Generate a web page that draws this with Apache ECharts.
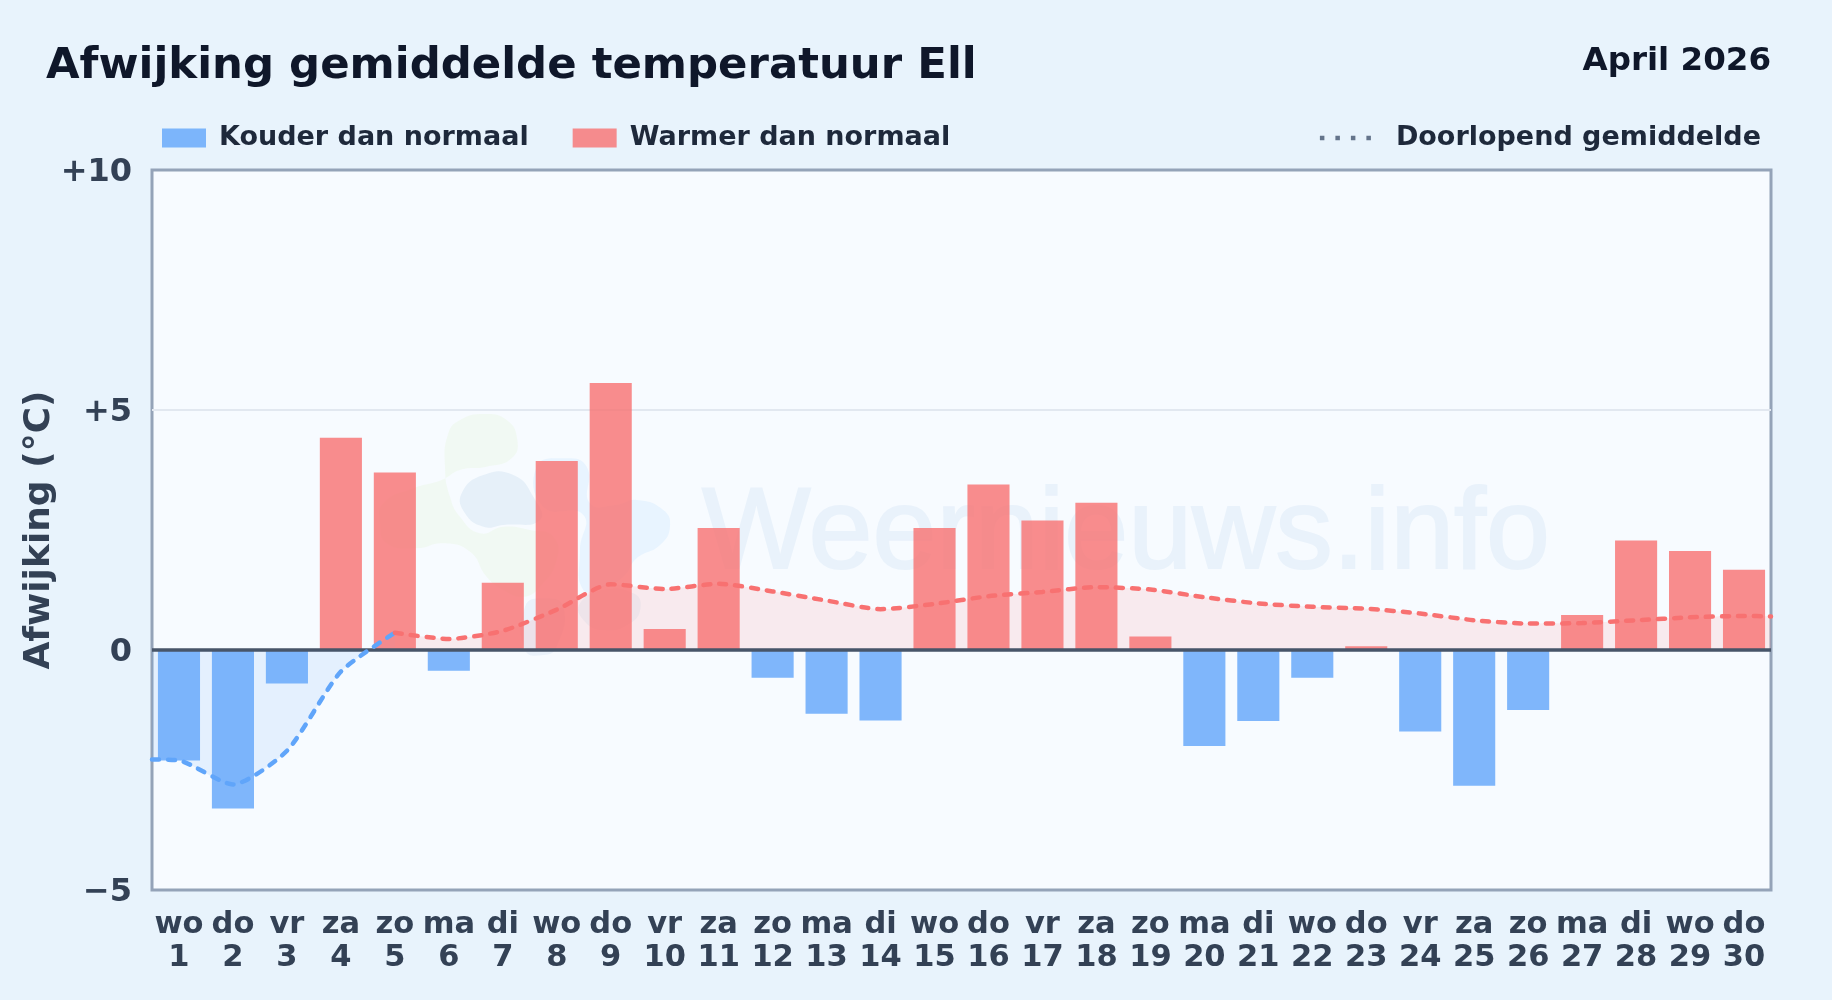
<!DOCTYPE html>
<html><head><meta charset="utf-8">
<style>html,body{margin:0;padding:0;background:#e8f3fc}#c{width:1832px;height:1000px}</style>
<script src="https://cdn.jsdelivr.net/npm/echarts@6/dist/echarts.min.js"></script>
</head><body><div id="c"></div>
<script>
const weekdays = ['wo','do','vr','za','zo','ma','di','wo','do','vr','za','zo','ma','di','wo','do','vr','za','zo','ma','di','wo','do','vr','za','zo','ma','di','wo','do'];
const dayNumbers = [1,2,3,4,5,6,7,8,9,10,11,12,13,14,15,16,17,18,19,20,21,22,23,24,25,26,27,28,29,30];
const colderValues = [-2.3,-3.3,-0.7,null,null,-0.43,null,null,null,null,null,-0.58,-1.33,-1.47,null,null,null,null,null,-2.0,-1.48,-0.58,null,-1.7,-2.83,-1.25,null,null,null,null];
const warmerValues = [null,null,null,4.42,3.7,null,1.4,3.94,5.56,0.44,2.54,null,null,null,2.54,3.45,2.7,3.07,0.28,null,null,null,0.08,null,null,null,0.73,2.28,2.06,1.67];
const coldAvgDays = [0.5,1,2,3,4,5];
const coldAvgValues = [-2.28,-2.3,-2.8,-2.1,-0.45,0.36];
const warmAvgDays = [5,6,7,8,9,10,11,12,13,14,15,16,17,18,19,20,21,22,23,24,25,26,27,28,29,30,30.5];
const warmAvgValues = [0.36,0.23,0.4,0.84,1.37,1.27,1.38,1.22,1.03,0.85,0.96,1.12,1.21,1.31,1.26,1.1,0.97,0.9,0.86,0.76,0.62,0.55,0.56,0.62,0.68,0.71,0.7];
const yTickLabels = {'10':'+10','5':'+5','0':'0','-5':'\u22125'};

const FONT = '"DejaVu Sans"';
const pair = (xs, ys) => xs.map((x, i) => [x, ys[i]]);
const categories = weekdays.map((w, i) => w + '\n' + dayNumbers[i]);
const zoomPts = pts => pts.map(p => [p[0] / 3 + 370, p[1] / 3 + 390]);
const blob = (pts, fill) => ({type:'polygon', z:1, silent:true, shape:{points:zoomPts(pts), smooth:0.5}, style:{fill}});
const SMOOTH = 0.22;

const chart = echarts.init(document.getElementById('c'), null, {renderer:'canvas'});
chart.setOption({
  animation:false,
  backgroundColor:'#e8f3fc',
  title:[
    {text:'Afwijking gemiddelde temperatuur Ell', left:46, top:45.5, padding:0, textStyle:{fontFamily:FONT, fontWeight:'bold', fontSize:43.4, color:'#0f172a'}},
    {text:'April 2026', right:61, top:45, padding:0, textStyle:{fontFamily:FONT, fontWeight:'bold', fontSize:32.5, color:'#0f172a'}}
  ],
  legend:[
    {left:162, top:124.5, itemWidth:44, itemHeight:19, itemGap:44, padding:0, selectedMode:false,
     icon:'rect', data:['Kouder dan normaal','Warmer dan normaal'],
     textStyle:{fontFamily:FONT, fontWeight:'bold', fontSize:27, color:'#1e293b', padding:[2,0,0,8]}},
    {right:71, top:124.5, itemWidth:56, itemHeight:19, padding:0, selectedMode:false,
     data:[{name:'Doorlopend gemiddelde', itemStyle:{opacity:0}, lineStyle:{color:'#64748b', width:4.5, type:[4.5,11], opacity:1}}],
     textStyle:{fontFamily:FONT, fontWeight:'bold', fontSize:27, color:'#1e293b', padding:[2,0,0,15]}}
  ],
  grid:{left:152, right:61, top:170, bottom:110, show:true, backgroundColor:'#f7fbff', borderColor:'#94a3b8', borderWidth:3, containLabel:false},
  xAxis:[
    {type:'category', data:categories, position:'bottom', axisLine:{show:false, onZero:false}, axisTick:{show:false}, splitLine:{show:false},
     axisLabel:{interval:0, margin:18, fontFamily:FONT, fontWeight:'bold', fontSize:30.5, lineHeight:33.5, color:'#334155'}},
    {type:'value', min:0.5, max:30.5, show:false, splitLine:{show:false}}
  ],
  yAxis:{type:'value', min:-5, max:10, interval:5, name:'Afwijking (°C)', nameLocation:'middle', nameGap:94, nameMoveOverlap:false,
    nameTextStyle:{fontFamily:FONT, fontWeight:'bold', fontSize:36, color:'#334155'},
    axisLine:{show:false}, axisTick:{show:false},
    axisLabel:{margin:20, verticalAlign:'top', lineHeight:32, padding:[-13.7,0,0,0], fontFamily:FONT, fontWeight:'bold', fontSize:32, color:'#334155', formatter:v => yTickLabels[String(v)]},
    splitLine:{show:true, showMinLine:false, showMaxLine:false, lineStyle:{color:'#e2e8f0', width:2}}},
  graphic:[
    blob([[235,130],[270,90],[340,72],[410,90],[442,150],[425,205],[350,230],[270,240],[215,270],[130,295],[40,340],[30,400],[50,460],[140,475],[220,460],[300,485],[350,560],[400,600],[460,620],[510,590],[560,510],[550,440],[480,420],[400,410],[330,430],[270,380],[240,320],[225,230]], 'rgba(170,220,90,0.07)'),
    blob([[275,310],[340,255],[430,255],[490,320],[510,390],[400,405],[340,410],[285,370]], 'rgba(40,110,180,0.08)'),
    blob([[500,230],[580,205],[650,230],[660,340],[740,345],[800,330],[880,360],[900,410],[870,465],[800,505],[760,560],[700,590],[640,600],[630,480],[640,375],[520,350]], 'rgba(90,180,250,0.09)'),
    blob([[630,640],[700,600],[790,610],[812,650],[780,700],[700,720],[640,690]], 'rgba(40,110,180,0.05)'),
    blob([[465,650],[520,625],[580,650],[560,770],[520,795],[465,780]], 'rgba(40,110,180,0.06)'),
    {type:'text', z:1, silent:true, x:702, y:594, style:{text:'Weernieuws.info', fontFamily:'"Liberation Sans"', fontSize:115, fill:'#e9f2fb', stroke:'#e9f2fb', lineWidth:2, textVerticalAlign:'bottom', verticalAlign:'alphabetic'}}
  ],
  series:[
    {name:'coldFill', type:'line', xAxisIndex:1, z:2, smooth:SMOOTH, symbol:'none', silent:true, lineStyle:{width:0}, data:pair(coldAvgDays, coldAvgValues), areaStyle:{origin:0, color:'rgba(96,165,250,0.18)'}},
    {name:'warmFill', type:'line', xAxisIndex:1, z:2, smooth:SMOOTH, symbol:'none', silent:true, lineStyle:{width:0}, data:pair(warmAvgDays, warmAvgValues), areaStyle:{origin:0, color:'rgba(255,110,110,0.17)'}},
    {name:'Kouder dan normaal', type:'bar', z:3, barWidth:'78%', barGap:'-100%', data:colderValues, itemStyle:{color:'rgba(96,165,250,0.8)'}},
    {name:'Warmer dan normaal', type:'bar', z:3, barWidth:'78%', barGap:'-100%', data:warmerValues, itemStyle:{color:'rgba(248,113,113,0.8)'},
     markLine:{silent:true, symbol:'none', z:4, label:{show:false}, lineStyle:{color:'#475569', width:3.5, type:'solid'}, data:[{yAxis:0}]}},
    {name:'coldLine', type:'line', xAxisIndex:1, z:6, smooth:SMOOTH, symbol:'none', silent:true, data:pair(coldAvgDays, coldAvgValues), lineStyle:{color:'#60a5fa', width:4.5, type:[7,9], cap:'round'}},
    {name:'warmLine', type:'line', xAxisIndex:1, z:6, smooth:SMOOTH, symbol:'none', silent:true, data:pair(warmAvgDays, warmAvgValues), lineStyle:{color:'#f87171', width:4.5, type:[7,9], cap:'round'}},
    {name:'Doorlopend gemiddelde', type:'line', xAxisIndex:1, symbol:'none', data:[], lineStyle:{color:'#64748b', width:4.5, type:[4.5,11]}}
  ]
});
</script></body></html>
